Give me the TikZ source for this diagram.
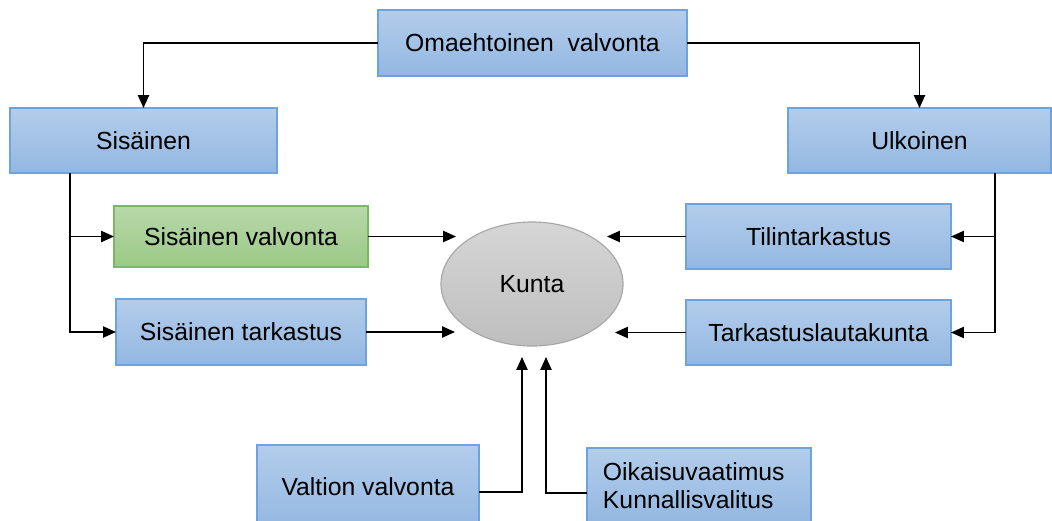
\documentclass[tikz,border=0pt]{standalone}
\usepackage{fontspec}
\setmainfont{Liberation Sans}
\usetikzlibrary{arrows.meta,shapes.geometric}

\definecolor{boxline}{HTML}{6FA3DC}
\definecolor{boxtop}{HTML}{B3CDEB}
\definecolor{boxbottom}{HTML}{93B7E1}
\definecolor{greenline}{HTML}{7DB85F}
\definecolor{greentop}{HTML}{B8D8AA}
\definecolor{greenbottom}{HTML}{9BC986}
\definecolor{ovalline}{HTML}{A6A6A6}
\definecolor{ovaltop}{HTML}{D6D6D6}
\definecolor{ovalbottom}{HTML}{BEBEBE}

\tikzset{
  box/.style={draw=boxline, line width=1pt, top color=boxtop, bottom color=boxbottom,
    inner sep=0pt, outer sep=0pt, font=\fontsize{17.6}{20}\selectfont},
  greenbox/.style={box, draw=greenline, top color=greentop, bottom color=greenbottom},
  oval/.style={ellipse, draw=ovalline, line width=0.8pt, top color=ovaltop, bottom color=ovalbottom,
    inner sep=0pt, outer sep=0pt, font=\fontsize{17.6}{20}\selectfont},
  conn/.style={line width=0.95pt, -{Triangle[length=0.32cm,width=0.28cm]}}
}

\begin{document}
\begin{tikzpicture}[x=0.025cm, y=-0.025cm]
    \useasboundingbox (0,0) rectangle (1052,520);
    \clip (0,0) rectangle (1052,520);

    % Top
    \node[box, minimum width=7.725cm, minimum height=1.65cm] (omaeh) at (532.5,43) {Omaehtoinen\ \ valvonta};
    \node[box, minimum width=6.675cm, minimum height=1.625cm] (sis) at (143.5,140.5) {Sisäinen};
    \node[box, minimum width=6.575cm, minimum height=1.625cm] (ulk) at (919.5,140.5) {Ulkoinen};

    % Left column
    \node[greenbox, minimum width=6.35cm, minimum height=1.525cm] (sisval) at (241,236.5) {Sisäinen valvonta};
    \node[box, minimum width=6.25cm, minimum height=1.65cm] (sistark) at (241,332) {Sisäinen tarkastus};

    % Centre
    \node[oval, minimum width=4.55cm, minimum height=3.1cm] (kunta) at (532,284) {Kunta};

    % Right column
    \node[box, minimum width=6.625cm, minimum height=1.625cm] (tilin) at (818.5,236.5) {Tilintarkastus};
    \node[box, minimum width=6.625cm, minimum height=1.625cm] (tarklauta) at (818.5,332.5) {Tarkastuslautakunta};

    % Bottom
    \node[box, minimum width=5.55cm, minimum height=2.1cm] (valtion) at (368,487) {Valtion valvonta};
    \node[box, minimum width=5.6cm, minimum height=1.9cm, text width=4.8cm, inner xsep=0.4cm,
      align=left, font=\fontsize{17.6}{19.9}\selectfont] (oikaisu) at (699,486)
      {Oikaisuvaatimus\\Kunnallisvalitus};

    % Free ends
    \coordinate (sisjoin) at (70,173);
    \coordinate (ulkjoin) at (995,173);
    \coordinate (kin1) at (456,236.5);
    \coordinate (kin2) at (455,332);
    \coordinate (kin3) at (607,236.5);
    \coordinate (kin4) at (615,332.5);
    \coordinate (kin5) at (522,357);
    \coordinate (kin6) at (546,357);

    % Connectors
    \draw[conn] (omaeh.west) -| (sis.north);
    \draw[conn] (omaeh.east) -| (ulk.north);
    \draw[conn] (sisjoin) |- (sisval.west);
    \draw[conn] (sisjoin) |- (sistark.west);
    \draw[conn] (ulkjoin) |- (tilin.east);
    \draw[conn] (ulkjoin) |- (tarklauta.east);
    \draw[conn] (sisval.east) -- (kin1);
    \draw[conn] (sistark.east) -- (kin2);
    \draw[conn] (tilin.west) -- (kin3);
    \draw[conn] (tarklauta.west) -- (kin4);
    \draw[conn] ([yshift=-0.125cm]valtion.east) -| (kin5);
    \draw[conn] ([yshift=-0.175cm]oikaisu.west) -| (kin6);
\end{tikzpicture}
\end{document}
